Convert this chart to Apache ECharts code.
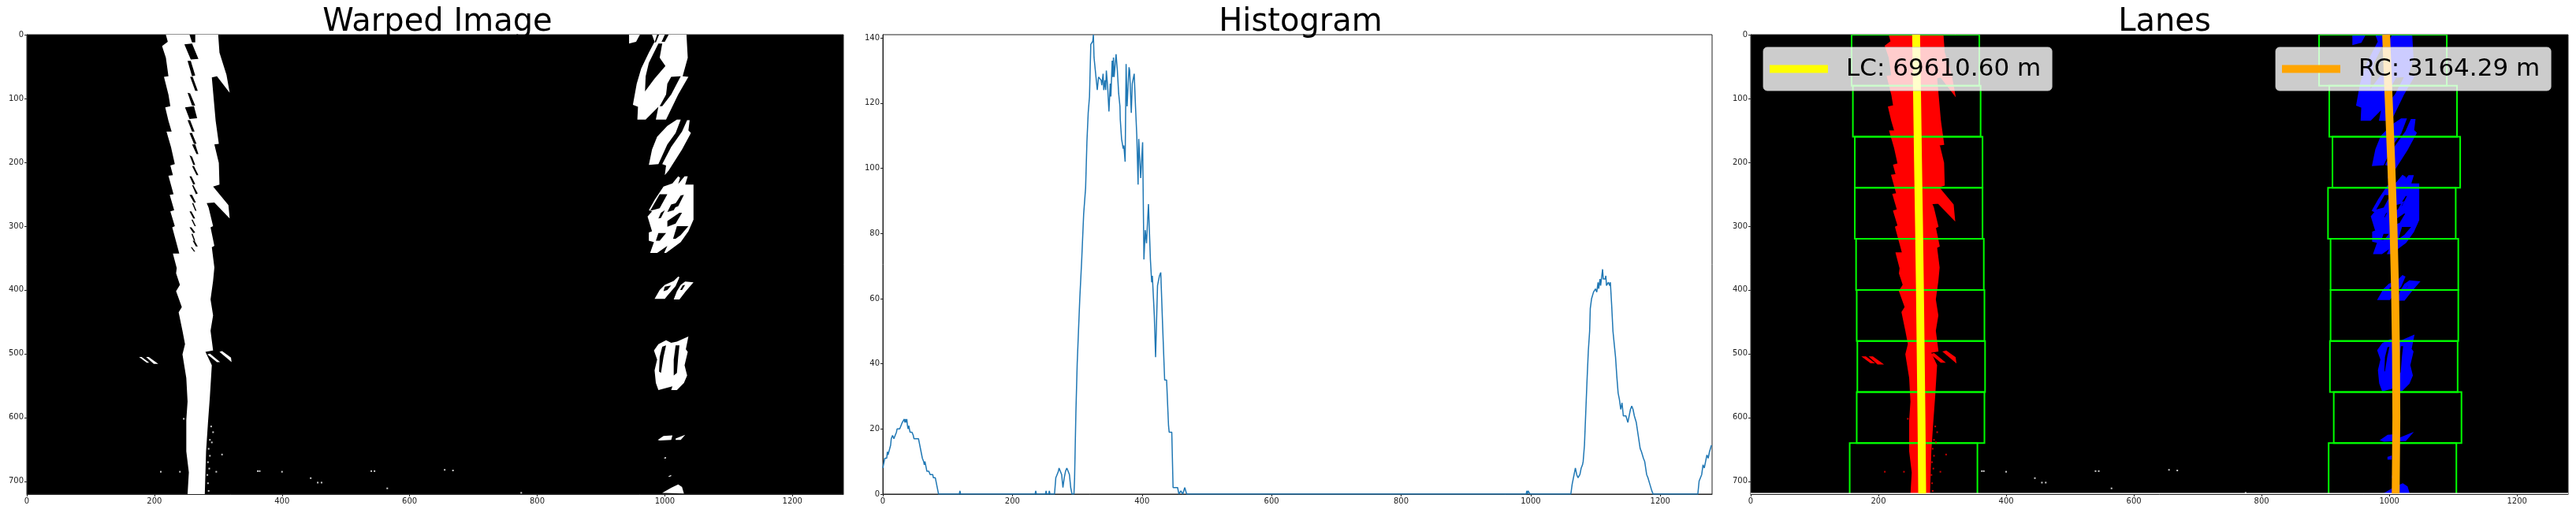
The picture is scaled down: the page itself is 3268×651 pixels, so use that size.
<!DOCTYPE html>
<html>
<head>
<meta charset="utf-8">
<script src="https://cdn.jsdelivr.net/npm/echarts@6/dist/echarts.min.js"></script>
<style>html,body{margin:0;padding:0;background:#fff}#c{width:3268px;height:651px}</style>
</head>
<body>
<div id="c"></div>
<script>
// ---- text and ticks ----
const titles = ['Warped Image', 'Histogram', 'Lanes'];
const leftLegend = 'LC: 69610.60 m';
const rightLegend = 'RC: 3164.29 m';
const xTicks = [0, 200, 400, 600, 800, 1000, 1200];
const imageYTicks = [0, 100, 200, 300, 400, 500, 600, 700];
const histYTicks = [0, 20, 40, 60, 80, 100, 120, 140];

// ---- left lane pixels, image coordinates [x, y] ----
const leftLane = [[[218,0],[221,11],[212,18],[218,36],[222,65],[215,66],[222,94],[225,112],[217,114],[222,135],[227,152],[219,152],[226,176],[232,203],[225,205],[229,220],[222,221],[230,250],[224,251],[231,275],[225,277],[232,300],[228,302],[239,343],[229,343],[235,366],[234,374],[240,392],[234,402],[243,427],[238,435],[244,464],[248,485],[244,501],[250,538],[252,575],[250,604],[250,653],[254,686],[252,720],[279,720],[281,653],[284,608],[287,567],[290,518],[280,497],[292,495],[288,464],[292,440],[288,415],[292,386],[294,365],[290,333],[294,331],[288,302],[292,300],[285,271],[282,264],[294,263],[318,288],[316,267],[292,238],[302,235],[301,201],[294,172],[301,171],[296,135],[290,67],[298,65],[318,91],[313,63],[302,28],[300,0]]];
const leftSlivers = [
 [[176,505],[180,505],[192,514],[188,514]],
 [[187,505],[191,505],[206,516],[199,516]],
 [[283,501],[287,500],[303,513],[298,513]],
 [[302,497],[306,496],[320,506],[321,513]]
];
const leftHoles = [
 [[255,0],[264,0],[264,12],[259,12]],
 [[247,15],[259,14],[269,38],[257,39]],
 [[252,41],[257,41],[264,64],[259,65]],
 [[256,66],[260,66],[268,88],[264,88]],
 [[252,91],[256,92],[264,111],[259,111]],
 [[248,114],[262,112],[267,131],[255,132]],
 [[252,134],[256,134],[263,152],[259,152]],
 [[255,154],[259,154],[266,171],[262,171]],
 [[259,172],[264,172],[269,187],[266,187]],
 [[255,189],[259,191],[264,204],[261,204]],
 [[259,206],[262,206],[269,220],[266,220]],
 [[255,222],[258,222],[264,234],[261,235]],
 [[259,236],[261,236],[268,249],[265,250]],
 [[255,251],[259,251],[265,263],[262,263]],
 [[259,264],[261,264],[266,276],[264,276]],
 [[255,277],[258,277],[264,288],[261,288]],
 [[258,290],[260,290],[265,300],[263,300]],
 [[255,302],[258,302],[264,310],[261,311]],
 [[258,312],[260,312],[264,323],[262,323]],
 [[260,323],[263,323],[268,332],[265,332]],
 [[257,333],[259,333],[264,340],[262,340]]
];
// ---- right lane pixels ----
const rightLane = [
 [[944,0],[961,0],[955,11],[944,14]],
 [[980,0],[1034,0],[1036,36],[1028,65],[1037,66],[1021,94],[1002,133],[986,133],[990,113],[970,133],[957,133],[958,113],[950,110],[956,77],[963,53],[975,28],[984,11]],
 [[1019,133],[1025,133],[1017,154],[1004,172],[990,203],[975,204],[980,180],[988,160],[1004,143]],
 [[1035,134],[1039,134],[1037,150],[1041,154],[1027,180],[1006,213],[1000,220],[1002,205],[996,203],[1010,176],[1027,152]],
 [[1021,222],[1024,224],[1021,234],[1031,222],[1036,222],[1032,235],[1045,235],[1045,290],[1037,308],[1025,325],[1002,342],[999,342],[1004,331],[988,342],[977,342],[983,325],[975,323],[975,310],[980,308],[973,285],[980,277],[975,275],[984,259],[998,238],[1012,233]],
 [[984,414],[992,400],[1000,392],[1014,386],[1021,379],[1023,380],[1017,394],[1004,409],[1000,414]],
 [[1014,415],[1019,402],[1025,392],[1032,387],[1045,388],[1033,402],[1023,415]],
 [[990,485],[1002,479],[1010,483],[1019,481],[1037,473],[1033,493],[1036,497],[1031,518],[1035,534],[1030,546],[1019,557],[1010,557],[1012,551],[990,557],[986,546],[984,526],[988,509],[983,495]],
 [[989,635],[998,629],[1012,628],[1010,635],[992,636]],
 [[1017,633],[1032,627],[1025,635],[1017,635]],
 [[999,663],[1002,662],[1002,664],[999,664]],
 [[1006,692],[1010,690],[1010,692],[1006,693]],
 [[996,718],[1010,710],[1021,705],[1027,709],[1030,719]]
];
const rightHoles = [
 [[988,0],[991,0],[986,12],[984,12]],
 [[1000,0],[1006,0],[1000,11],[995,11]],
 [[990,14],[996,14],[992,36],[1001,49],[984,69],[969,89],[970,65],[975,44]],
 [[1010,66],[1025,65],[1010,94],[996,112],[992,112],[1002,94],[1004,77]],
 [[992,250],[1004,250],[992,272],[977,276]],
 [[1025,252],[1030,251],[1021,269],[1012,272]],
 [[1010,266],[1021,263],[1014,275],[1004,278]],
 [[994,279],[1000,275],[994,287],[990,288]],
 [[1004,292],[1023,279],[1027,279],[1017,296],[1004,301]],
 [[1019,300],[1037,300],[1025,314],[1017,320],[1013,320]],
 [[990,311],[1002,311],[992,323],[986,323]],
 [[1000,395],[1010,393],[1004,400],[998,402]],
 [[1028,393],[1032,392],[1027,400],[1024,400]],
 [[996,489],[1002,487],[998,505],[994,530],[991,528],[992,505]],
 [[1017,487],[1023,487],[1021,505],[1019,530],[1014,534],[1014,509]]
];
// ---- stray pixels ----
const leftNoise = [[289,614],[292,623],[287,635],[290,639],[285,649],[287,660],[284,670],[286,680],[283,690],[284,703],[285,715],[306,658],[210,685],[240,685],[297,685],[246,602]];
const middleNoise = [[362,684],[365,684],[400,685],[540,684],[545,684],[655,682],[668,683],[445,695],[456,702],[462,702],[565,711],[775,718]];
// ---- histogram [x, count] ----
const histogram = [[0,8],[2,10],[3,11],[6,11],[7,13],[8,12],[10,12],[12,15],[13,17],[15,18],[17,17],[19,17],[21,19],[22,20],[26,20],[28,21],[30,22],[32,22],[33,23],[34,22],[35,23],[36,22],[37,23],[38,21],[39,20],[40,21],[42,19],[45,19],[47,18],[48,17],[55,17],[57,15],[59,13],[61,11],[63,10],[64,9],[65,10],[67,8],[68,7],[71,7],[73,6],[77,6],[78,5],[81,5],[83,3],[85,1],[86,0],[118,0],[119,1],[120,0],[235,0],[236,1],[237,0],[251,0],[252,1],[253,0],[256,0],[257,1],[258,0],[265,0],[267,5],[269,6],[271,7],[272,8],[274,7],[276,6],[278,2],[280,5],[282,7],[284,8],[286,7],[288,6],[290,2],[292,0],[295,0],[296,5],[298,25],[300,40],[302,50],[304,60],[307,72],[310,86],[313,94],[315,108],[317,117],[319,122],[321,138],[324,139],[325,141],[326,134],[327,134],[329,128],[331,124],[333,128],[335,128],[337,127],[338,125.5],[340,129],[341,124],[343,127],[344,124],[345,130],[347,125],[349,117.4],[351,126],[352,122],[354,133],[355,128],[356,134],[357,128],[360,135],[362,130],[363,130],[364,123],[366,119],[366.5,115],[368,115],[368.5,109],[370,109],[371,106],[372,107],[374,102],[375.5,132],[377,119],[378,119],[380,131],[381,130],[383.5,117],[385,126],[387,126],[388,129],[390,119],[392,110],[394,95],[395,109],[398,97],[401,108],[403,72],[405,81],[407,77],[410,89],[413,72],[415,65],[416,67],[419,55],[421,42],[424,64],[427,67],[429,68],[432,51],[435,35],[438,35],[441,21],[442,19],[446,19],[448,2],[455,2],[457,0],[460,1],[463,0],[466,2],[469,0],[993,0],[994,1],[995,0],[996,1],[998,1],[999,0],[1062,0],[1064,3],[1066,5],[1069,8],[1071,6],[1073,5],[1076,6],[1078,8],[1080,9],[1081,10],[1083,15],[1085,25],[1087,35],[1089,44],[1091,50],[1092,57],[1094,60],[1096,60],[1097,62],[1100,63],[1102,62],[1104,65],[1105,63],[1107,66],[1108,64],[1111,69],[1112,66],[1115,66],[1116,67],[1117,64],[1120,65],[1122,64],[1123,65],[1125,58],[1127,50],[1129,46],[1131,42],[1133,36],[1135,31],[1137,29],[1139,26],[1141,28],[1143,24],[1147,24],[1150,22],[1152,22],[1154,26],[1156,27],[1158,26],[1160,24],[1163,22],[1166,18],[1169,14],[1171,13],[1174,11],[1176,10],[1179,6],[1181,5],[1184,3],[1187,1],[1189,0],[1258,0],[1260,4],[1262,4],[1264,6],[1266,9],[1268,8],[1270,10],[1272,12],[1274,11],[1276,13],[1279,15]];
// ---- sliding windows: rows top to bottom, left and right edges ----
const windowTops = [0, 80, 160, 240, 320, 400, 480, 560, 640];
const windowHeight = 80;
const leftWindowLeft = [158, 160, 163, 163, 165, 166, 167, 166, 155];
const rightWindowLeft = [890, 906, 911, 904, 908, 908, 907, 913, 905];
const windowWidth = 200;
// ---- fitted lines ----
const fitY = [0, 100, 200, 300, 400, 500, 600, 719];
const leftFitX = [259, 260.6, 262, 263.6, 265, 266.2, 267.4, 268.5];
const rightFitX = [995, 999, 1003, 1006.5, 1009, 1010.5, 1011, 1010];
const bottomEdge = [[0, 719], [1280, 719]];

const TICK_COLOR = '#222';
const tickFont = { fontFamily: 'DejaVu Sans', fontSize: 10, color: '#222', margin: 4, formatter: v => String(v) };

function xAxis(i) {
  return { type: 'value', gridIndex: i, min: 0, max: 1280, position: 'bottom', splitLine: { show: false },
    axisLine: { show: true, onZero: false, lineStyle: { color: TICK_COLOR, width: 1 } },
    axisTick: { show: true, length: 3, customValues: xTicks, lineStyle: { color: TICK_COLOR } },
    axisLabel: Object.assign({ customValues: xTicks, hideOverlap: false }, tickFont) };
}
function yAxis(i, hist) {
  const t = hist ? histYTicks : imageYTicks;
  return { type: 'value', gridIndex: i, min: 0, max: hist ? 141 : 720, inverse: !hist, position: 'left', splitLine: { show: false },
    axisLine: { show: true, onZero: false, lineStyle: { color: TICK_COLOR, width: 1 } },
    axisTick: { show: true, length: 3, customValues: t, lineStyle: { color: TICK_COLOR } },
    axisLabel: Object.assign({ customValues: t, hideOverlap: false }, tickFont) };
}
function polygons(axis, list, fill, stroke, lw) {
  return { type: 'custom', xAxisIndex: axis, yAxisIndex: axis, clip: true, silent: true,
    data: list.map((_, i) => [i, 0]),
    renderItem(params, api) {
      const pts = list[api.value(0)].map(p => api.coord(p));
      return { type: 'polygon', shape: { points: pts }, style: { fill: fill, stroke: stroke || fill, lineWidth: lw || 0 } };
    } };
}
function dots(axis, list, color, size) {
  return { type: 'scatter', xAxisIndex: axis, yAxisIndex: axis, data: list, symbol: 'rect', symbolSize: size, silent: true,
    itemStyle: { color: color } };
}
function windows(axis, lefts) {
  return { type: 'custom', xAxisIndex: axis, yAxisIndex: axis, clip: true, silent: true,
    data: lefts.map((x, i) => [x, windowTops[i]]),
    renderItem(params, api) {
      const a = api.coord([api.value(0), api.value(1)]);
      const b = api.coord([api.value(0) + windowWidth, api.value(1) + windowHeight]);
      return { type: 'rect', shape: { x: a[0], y: a[1], width: b[0] - a[0], height: b[1] - a[1] },
        style: { fill: 'none', stroke: '#00ff00', lineWidth: 2 } };
    } };
}
function fitLine(axis, name, xs, color) {
  return { type: 'line', name: name, xAxisIndex: axis, yAxisIndex: axis, showSymbol: false, symbol: 'none', silent: true,
    data: xs.map((x, i) => [x, fitY[i]]), lineStyle: { color: color, width: 10, cap: 'butt' }, itemStyle: { color: color } };
}
function legend(name, left) {
  return { data: [{ name: name, icon: 'rect' }], left: left, top: 60, itemWidth: 74, itemHeight: 10, orient: 'horizontal',
    padding: [12, 14, 12, 8], backgroundColor: 'rgba(255,255,255,0.8)', borderColor: 'rgba(204,204,204,0.8)', borderWidth: 1, borderRadius: 5,
    itemStyle: { borderWidth: 0 }, lineStyle: { width: 0 },
    selectedMode: false, textStyle: { fontFamily: 'DejaVu Sans', fontSize: 31, color: '#000', padding: [0, 0, 0, 18] } };
}

const titleStyle = { fontFamily: 'DejaVu Sans', fontSize: 40, fontWeight: 'normal', color: '#000' };
const option = {
  animation: false,
  backgroundColor: '#fff',
  title: [
    { text: titles[0], left: 550, top: 4, textAlign: 'center', textStyle: titleStyle },
    { text: titles[1], left: 1645, top: 4, textAlign: 'center', textStyle: titleStyle },
    { text: titles[2], left: 2741, top: 4, textAlign: 'center', textStyle: titleStyle }
  ],
  grid: [
    { left: 34, top: 44, width: 1036, height: 583, show: true, backgroundColor: '#000', borderColor: TICK_COLOR, borderWidth: 1 },
    { left: 1120, top: 44, width: 1052, height: 583, show: true, backgroundColor: '#fff', borderColor: TICK_COLOR, borderWidth: 1 },
    { left: 2221, top: 44, width: 1037, height: 583, show: true, backgroundColor: '#000', borderColor: TICK_COLOR, borderWidth: 1 }
  ],
  xAxis: [xAxis(0), xAxis(1), xAxis(2)],
  yAxis: [yAxis(0, false), yAxis(1, true), yAxis(2, false)],
  legend: [legend(leftLegend, 2237), legend(rightLegend, 2887)],
  series: [
    // panel 1
    polygons(0, leftLane, '#fff'),
    polygons(0, leftSlivers, '#fff'),
    polygons(0, rightLane, '#fff'),
    polygons(0, leftHoles, '#000'),
    polygons(0, rightHoles, '#000'),
    dots(0, leftNoise, '#fff', 2),
    dots(0, middleNoise, '#fff', 2),
    // panel 2
    { type: 'line', xAxisIndex: 1, yAxisIndex: 1, data: histogram, showSymbol: false, symbol: 'none', silent: true,
      lineStyle: { color: '#1f77b4', width: 1.5 } },
    // panel 3
    polygons(2, leftLane, '#ff0000', '#ff0000', 3),
    polygons(2, leftSlivers, '#ff0000', '#ff0000', 1.5),
    polygons(2, rightLane, '#0000ff', '#0000ff', 3),
    polygons(2, rightHoles, '#000', '#0000ff', 2),
    dots(2, leftNoise, '#ff0000', 2),
    dots(2, middleNoise, '#fff', 2),
    { type: 'line', xAxisIndex: 2, yAxisIndex: 2, data: bottomEdge, showSymbol: false, symbol: 'none', silent: true,
      lineStyle: { color: '#fff', width: 1.5 } },
    windows(2, leftWindowLeft),
    windows(2, rightWindowLeft),
    fitLine(2, leftLegend, leftFitX, '#ffff00'),
    fitLine(2, rightLegend, rightFitX, '#ffa500')
  ]
};
const chart = echarts.init(document.getElementById('c'), null, { renderer: 'canvas' });
chart.setOption(option);
</script>
</body>
</html>
